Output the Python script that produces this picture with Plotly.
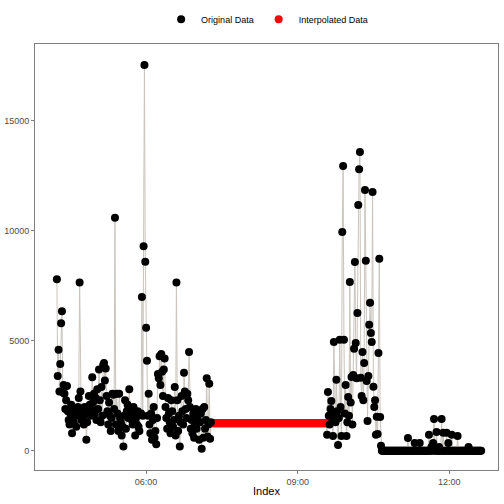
import pandas as pd
import plotly.graph_objects as go

# original readings, one per minute
seg1_start = "2023-01-01 04:14"
seg1_values = [
    7800, 3400, 4600, 2700, 3950, 5800, 6350, 2650, 3000, 2600,
    1900, 2300, 2950, 1800, 1400, 1200, 1700, 2100, 800, 1500,
    1300, 1900, 1600, 1100, 1700, 2000, 2400, 7650, 2700, 1400,
    1800, 1500, 1200, 2000, 1700, 500, 1300, 1900, 2500, 2100,
    1600, 1900, 3350, 2200, 2600, 1700, 2400, 1400, 2800, 1900,
    3700, 2300, 1300, 2900, 1600, 3900, 4000, 3200, 3750, 2500,
    1800, 1200, 2200, 1600, 900, 1500, 2600, 2550, 1900, 10600,
    1200, 2600, 1700, 900, 2600, 1500, 1300, 700, 1100, 200,
    1600, 2300, 1000, 1800, 2100, 1500, 2800, 1700, 1900, 1400,
    1200, 2000, 1600, 700, 1500, 1200, 1800, 1100, 900, 1700,
    1700, 7000, 1600, 9300, 17550, 8600, 5600, 4100, 1600, 2600,
    1200, 800, 1700, 500, 1400, 2000, 600, 900, 300, 1500,
    3500, 3300, 4300, 3000, 4400, 3600, 2500, 3700, 4200, 2000,
    1500, 1000, 2400, 1700, 1300, 800, 2300, 1800, 1100, 1400,
    2900, 700, 7650, 2300, 900, 1600, 200, 1300, 2500, 1800,
    1200, 3550, 2700, 1900, 1500, 2600, 2300, 4500, 2000, 1000,
    1400, 800, 1700, 600, 1200, 1900, 1000, 1500, 1300, 500,
    1300, 1700, 100, 1900, 600, 2000, 1000, 1400, 3300, 650,
    1200, 3050, 550, 1300,
]

seg2_start = "2023-01-01 09:35"
seg2_values = [
    730, 2680, 1600, 1200, 1900, 2270, 1500, 680, 4950, 1700,
    1300, 3230, 1800, 270, 1500, 5050, 2000, 680, 9950, 12950,
    5050, 1700, 3000, 680, 1300, 2450, 1600, 7680, 2200, 3360,
    1200, 3450, 4640, 8590, 4900, 3300, 6270, 11180, 12800, 13590,
    3320, 2500, 4500, 2300, 4000, 11860, 8640, 3180, 1360, 3400,
    5730, 6730, 5360, 4950, 11770, 2910, 2000, 2300, 730, 1550,
    770, 4450, 8730, 1540, 230,
]

seg3_start = "2023-01-01 10:40"
seg3_values = [
    0, 0, 0, 0, 0, 0, 0, 0, 0, 0,
    0, 0, 0, 0, 0, 0, 0, 0, 0, 0,
    0, 0, 0, 0, 0, 0, 0, 0, 0, 0,
    0, 590, 0, 0, 0, 0, 0, 0, 0, 360,
    0, 0, 0, 0, 0, 360, 0, 0, 0, 0,
    0, 0, 0, 0, 0, 0, 730, 0, 0, 180,
    0, 360, 1450, 0, 0, 860, 0, 0, 180, 0,
    0, 1450, 0, 820, 0, 0, 0, 820, 0, 360,
    0, 0, 0, 730, 0, 0, 0, 0, 0, 0,
    680, 0, 0, 0, 0, 0, 0, 0, 0, 0,
    0, 0, 0, 180, 0, 0, 0, 0, 0, 0,
    0, 0, 0, 0, 0, 0, 0, 0, 0,
]

# gap filled by interpolation
interp_start = "2023-01-01 07:18"
interp_end = "2023-01-01 09:34"
interp_level = 1260


def minute_series(start, values):
    return pd.Series(values, index=pd.date_range(start, periods=len(values), freq="min"))


orig = pd.concat([
    minute_series(seg1_start, seg1_values),
    minute_series(seg2_start, seg2_values),
    minute_series(seg3_start, seg3_values),
])
interp_idx = pd.date_range(interp_start, interp_end, freq="min")
interp = pd.Series([interp_level for _ in interp_idx], index=interp_idx)
full = pd.concat([orig, interp]).sort_index()

fig = go.Figure()
fig.add_trace(go.Scatter(x=full.index, y=full.values, mode="lines",
                         line=dict(color="#c9c4bd", width=1), showlegend=False, hoverinfo="skip"))
fig.add_trace(go.Scatter(x=interp.index, y=interp.values, mode="markers", name="Interpolated Data",
                         marker=dict(color="red", size=8), legendrank=2))
fig.add_trace(go.Scatter(x=orig.index, y=orig.values, mode="markers", name="Original Data",
                         marker=dict(color="black", size=8), legendrank=1))

axis_common = dict(showgrid=False, zeroline=False, showline=True, mirror=True, automargin=False,
                   linecolor="#7f7f7f", linewidth=1, ticks="outside", ticklen=3,
                   tickcolor="#7f7f7f", tickfont=dict(size=9, color="#4d4d4d"))

fig.update_layout(
    width=504, height=504,
    margin=dict(l=35, r=6, t=44, b=34),
    paper_bgcolor="white", plot_bgcolor="white",
    font=dict(family="Liberation Sans, Arial, sans-serif", color="black"),
    legend=dict(orientation="h", x=0.53, xanchor="center", xref="container",
                y=0.962, yanchor="middle", yref="container",
                font=dict(size=9), itemsizing="trace", itemwidth=30),
    xaxis=dict(axis_common, range=["2023-01-01 03:48", "2023-01-01 12:58"],
               tickvals=["2023-01-01 06:00", "2023-01-01 09:00", "2023-01-01 12:00"],
               ticktext=["06:00", "09:00", "12:00"]),
    yaxis=dict(axis_common, range=[-870, 18500], tickvals=[0, 5000, 10000, 15000],
               ticktext=["0", "5000", "10000", "15000"]),
    annotations=[dict(text="Index", x=0.5, xref="paper", y=-0.05, yref="paper",
                      xanchor="center", yanchor="middle", showarrow=False,
                      font=dict(size=11, color="black"))],
)

# drop the default 8px body margin so the figure sits at the window's corner
fig.write_html("out.html", config={"displayModeBar": False},
               post_script="document.body.style.margin = '0';")
